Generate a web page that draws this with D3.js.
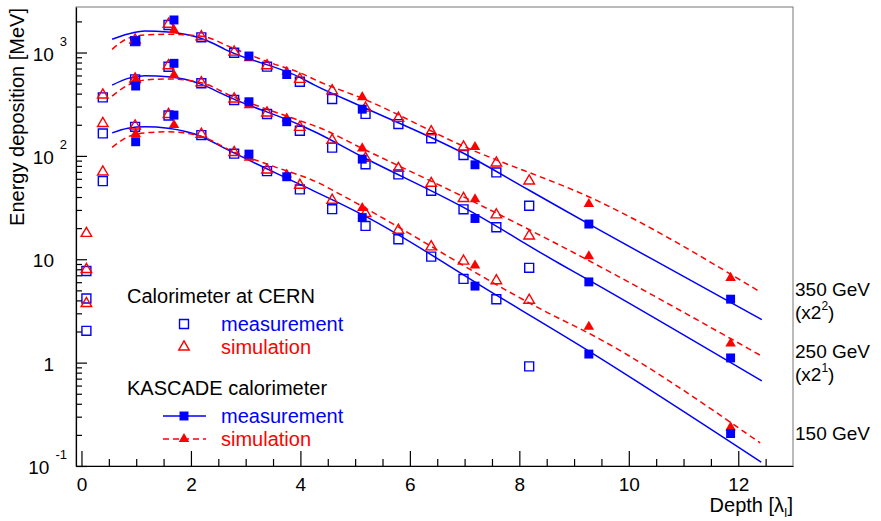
<!DOCTYPE html>
<html>
<head>
<meta charset="utf-8">
<script src="https://cdn.jsdelivr.net/npm/d3@7"></script>
<style>
  body { margin: 0; background: #fff; }
  text { font-family: "Liberation Sans", Arial, Helvetica, sans-serif; }
</style>
</head>
<body>
<script>
// profondeurs des mesures (en longueurs d'interaction)
const depthCern = [0.09, 0.39, 0.98, 1.59, 2.19, 2.79, 3.39, 3.99, 4.58, 5.19, 5.79, 6.39, 6.98, 7.58, 8.18];
const depthKascade = [0.99, 1.69, 3.06, 3.75, 5.13, 7.19, 9.27, 11.86];

// calorimètre au CERN : mesure (carrés vides)
const cernMeas350 = [7.7, 368, 1290, 1845, 1403, 995, 729, 521, 355, 255, 203, 148, 102, 69.2, 32.9];
const cernMeas250 = [4.17, 165, 550, 728, 504, 347, 254, 175, 120, 83, 66.2, 45.9, 30.4, 20.4, 8.26];
const cernMeas150 = [2.03, 57, 191, 246, 159, 105, 71.2, 47.4, 30.5, 21, 15.6, 10.6, 6.45, 4.1, 0.92];

// calorimètre au CERN : simulation (triangles vides)
const cernSim350 = [17.8, 388, 1320, 1880, 1420, 1010, 745, 550, 427, 290, 231, 171, 122, 85.5, 57.2];
const cernSim250 = [7.96, 206, 555, 745, 510, 355, 260, 189, 142, 95, 75.7, 54.2, 38.8, 26.9, 16.8];
const cernSim150 = [3.73, 70, 195, 252, 162, 108, 73, 52, 37.3, 27.7, 19.1, 13.2, 9.6, 6.2, 4.02];

// KASCADE : mesure (carrés pleins) et simulation (triangles pleins)
const kasMeas350 = [1292, 2065, 925, 612, 283, 82, 21.9, 4.11];
const kasMeas250 = [474, 786, 334, 214, 93, 24.8, 6.04, 1.11];
const kasMeas150 = [137, 248, 104, 62.8, 25.3, 5.5, 1.21, 0.206];
const kasSim350 = [1250, 1650, 880, 652, 370, 122, 34.2, 6.61];
const kasSim250 = [540, 605, 310, 230, 118, 38, 10.7, 1.53];
const kasSim150 = [163, 199, 96, 66, 31.3, 8.7, 2.22, 0.236];

// courbes d'ajustement [profondeur, énergie]
const fitMeas350 = [[0.56, 1343], [0.85, 1510], [1.16, 1615], [1.58, 1578], [2.18, 1372], [2.43, 1208], [2.62, 1074], [3.99, 575], [4.26, 484], [5.13, 299], [6.98, 106], [8.18, 46.5], [9.47, 19.1], [11.0, 6.83], [12.43, 2.61]];
const fitSim350 = [[0.56, 1074], [0.85, 1372], [1.16, 1476], [1.58, 1500], [2.19, 1440], [2.77, 1100], [3.44, 800], [3.99, 637], [4.35, 521], [5.13, 360], [6.98, 124], [9.47, 35.9], [12.4, 4.83]];
const fitMeas250 = [[0.56, 484], [0.85, 562], [1.16, 596], [1.58, 583], [2.18, 495], [2.43, 433], [2.62, 387], [3.99, 199], [4.26, 171], [5.13, 98], [6.98, 31.7], [8.73, 9.1], [9.27, 6.28], [12.43, 0.665]];
const fitSim250 = [[0.56, 379], [0.85, 484], [1.16, 542], [1.58, 555], [2.19, 510], [2.77, 373], [3.44, 277], [3.99, 219], [4.35, 187], [5.13, 118], [6.98, 40.2], [8.73, 13.7], [12.4, 1.18]];
const fitMeas150 = [[0.56, 167], [0.85, 185], [1.16, 191], [1.58, 185], [2.18, 155], [2.62, 118], [3.99, 53], [4.72, 34.7], [5.13, 27], [7.58, 4.49], [9.1, 1.47], [12.42, 0.109]];
const fitSim150 = [[0.56, 121], [0.85, 153], [1.16, 167], [1.58, 171], [2.18, 155], [2.77, 110], [3.44, 81.5], [4.35, 54.2], [4.72, 42.7], [8.73, 2.67], [9.1, 2.14], [12.4, 0.167]];

// graduations
const xMajorTicks = [0, 2, 4, 6, 8, 10, 12];
const yTickLabels = [
  { v: 0.1, base: "10", exp: "-1" },
  { v: 1, base: "1", exp: "" },
  { v: 10, base: "10", exp: "" },
  { v: 100, base: "10", exp: "2" },
  { v: 1000, base: "10", exp: "3" }
];
const energyLabels = [
  { name: "350 GeV", factor: "2" },
  { name: "250 GeV", factor: "1" },
  { name: "150 GeV", factor: "" }
];

const blue = "#0000ff", red = "#ff0000";

let width = 881, height = 521;
let margin = { top: 7, right: 88, bottom: 55, left: 76 };

let svg = d3.select("body")
  .append("svg")
  .attr("width", width)
  .attr("height", height);

let x = d3.scaleLinear()
  .domain([-0.1, 13])
  .range([margin.left, width - margin.right]);

let y = d3.scaleLog()
  .domain([0.1, 2756])
  .range([height - margin.bottom, margin.top]);

// cadre
svg.append("rect")
  .attr("x", x(-0.1)).attr("y", y(2756))
  .attr("width", x(13) - x(-0.1)).attr("height", y(0.1) - y(2756))
  .attr("fill", "none").attr("stroke", "#777").attr("stroke-width", 1);

// axe x
let xAxis = svg.append("g")
  .attr("transform", "translate(0," + y(0.1) + ")")
  .call(d3.axisBottom(x).tickValues(xMajorTicks).tickSize(-15).tickSizeOuter(0).tickPadding(12).tickFormat(d3.format("d")));
svg.append("g")
  .attr("transform", "translate(0," + y(0.1) + ")")
  .call(d3.axisBottom(x).tickValues(d3.range(0.5, 13, 1)).tickSize(-7).tickSizeOuter(0).tickFormat(""))
  .select(".domain").remove();
svg.append("g")
  .attr("transform", "translate(0," + y(0.1) + ")")
  .call(d3.axisBottom(x).tickValues([1, 3, 5, 7, 9, 11]).tickSize(-7).tickSizeOuter(0).tickFormat(""))
  .select(".domain").remove();
xAxis.selectAll("text").style("font-size", "19px").attr("fill", "#000");

// axe y
let yMinor = y.ticks().filter(d => Math.abs(Math.log10(d) - Math.round(Math.log10(d))) > 1e-6);
svg.append("g")
  .attr("transform", "translate(" + x(-0.1) + ",0)")
  .call(d3.axisLeft(y).tickValues(yTickLabels.map(d => d.v)).tickSize(-11).tickSizeOuter(0).tickFormat(""));
svg.append("g")
  .attr("transform", "translate(" + x(-0.1) + ",0)")
  .call(d3.axisLeft(y).tickValues(yMinor).tickSize(-6).tickSizeOuter(0).tickFormat(""))
  .select(".domain").remove();
svg.selectAll(".domain, .tick line").attr("stroke", "#000").attr("stroke-width", 1.2);

yTickLabels.forEach(d => {
  let t = svg.append("text")
    .attr("x", d.exp ? 67 : 54)
    .attr("y", y(d.v) + 8)
    .attr("text-anchor", "end")
    .style("font-size", "19px");
  t.append("tspan").text(d.base);
  if (d.exp) {
    t.append("tspan").attr("dx", 6).attr("dy", -15).style("font-size", "13px").text(d.exp);
  }
});

// titres des axes
svg.append("text")
  .attr("transform", "translate(24," + 8 + ") rotate(-90)")
  .attr("text-anchor", "end")
  .style("font-size", "20px")
  .text("Energy deposition [MeV]");

let xt = svg.append("text")
  .attr("x", x(13))
  .attr("y", 512)
  .attr("text-anchor", "end")
  .style("font-size", "20px");
xt.append("tspan").text("Depth [λ");
xt.append("tspan").attr("dy", 5).style("font-size", "12px").text("I");
xt.append("tspan").attr("dy", -5).text("]");

// courbes
let line = d3.line()
  .x(d => x(d[0]))
  .y(d => y(d[1]))
  .curve(d3.curveMonotoneX);

[fitMeas350, fitMeas250, fitMeas150].forEach(f => {
  svg.append("path").attr("d", line(f))
    .attr("fill", "none").attr("stroke", blue).attr("stroke-width", 1.5);
});
[fitSim350, fitSim250, fitSim150].forEach(f => {
  svg.append("path").attr("d", line(f))
    .attr("fill", "none").attr("stroke", red).attr("stroke-width", 1.5)
    .attr("stroke-dasharray", "6,4");
});

// marqueurs
let square = d3.symbol().type(d3.symbolSquare).size(80);
let triangle = d3.symbol().type(d3.symbolTriangle).size(48);

function markers(xs, vals, sym, color, filled) {
  svg.append("g").selectAll("path")
    .data(vals)
    .enter().append("path")
    .attr("d", sym)
    .attr("transform", (d, i) => "translate(" + x(xs[i]) + "," + y(d) + ")")
    .attr("fill", filled ? color : "none")
    .attr("stroke", color)
    .attr("stroke-width", filled ? 0 : 1.4);
}

[cernMeas350, cernMeas250, cernMeas150].forEach(v => markers(depthCern, v, square, blue, false));
[cernSim350, cernSim250, cernSim150].forEach(v => markers(depthCern, v, triangle, red, false));
[kasSim350, kasSim250, kasSim150].forEach(v => markers(depthKascade, v, triangle, red, true));
[kasMeas350, kasMeas250, kasMeas150].forEach(v => markers(depthKascade, v, square, blue, true));

// étiquettes des énergies à droite
energyLabels.forEach((d, i) => {
  let yy = [296, 358, 440][i];
  svg.append("text")
    .attr("x", 795).attr("y", yy)
    .style("font-size", "19px")
    .text(d.name);
  if (d.factor) {
    let t = svg.append("text")
      .attr("x", 795).attr("y", yy + 23)
      .style("font-size", "19px");
    t.append("tspan").text("(x2");
    t.append("tspan").attr("dy", -9).style("font-size", "12px").text(d.factor);
    t.append("tspan").attr("dy", 9).text(")");
  }
});

// légende
let legend = svg.append("g").attr("class", "legend");
legend.append("text").attr("x", 127).attr("y", 303).style("font-size", "20px").text("Calorimeter at CERN");
legend.append("text").attr("x", 127).attr("y", 395).style("font-size", "20px").text("KASCADE calorimeter");

let legendItems = [
  { y: 324, sym: square, color: blue, filled: false, line: null, label: "measurement" },
  { y: 347, sym: triangle, color: red, filled: false, line: null, label: "simulation" },
  { y: 416, sym: square, color: blue, filled: true, line: "none", label: "measurement" },
  { y: 439, sym: triangle, color: red, filled: true, line: "6,4", label: "simulation" }
];

legendItems.forEach(d => {
  if (d.line) {
    legend.append("line")
      .attr("x1", 163).attr("x2", 206).attr("y1", d.y).attr("y2", d.y)
      .attr("stroke", d.color).attr("stroke-width", 1.5)
      .attr("stroke-dasharray", d.line === "none" ? null : d.line);
  }
  legend.append("path")
    .attr("d", d.sym)
    .attr("transform", "translate(184," + d.y + ")")
    .attr("fill", d.filled ? d.color : "#fff")
    .attr("stroke", d.color)
    .attr("stroke-width", d.filled ? 0 : 1.4);
  legend.append("text")
    .attr("x", 221).attr("y", d.y + 7)
    .style("font-size", "20px")
    .attr("fill", d.color)
    .text(d.label);
});
</script>
</body>
</html>
